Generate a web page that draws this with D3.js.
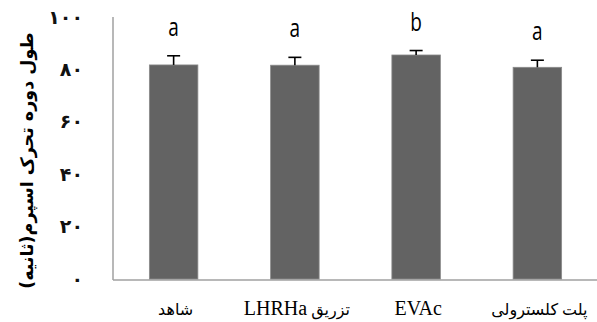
<!DOCTYPE html>
<html>
<head>
<meta charset="utf-8">
<script src="https://cdn.jsdelivr.net/npm/d3@7"></script>
<style>
  html, body { margin: 0; padding: 0; background: #fff; }
  svg { display: block; }
</style>
</head>
<body>
<svg id="chart" width="597" height="322"></svg>
<script>
// Sperm motility duration (seconds) by treatment
const categories = ["شاهد", "تزریق LHRHa", "EVAc", "پلت کلسترولی"];
const means = [81.7, 81.6, 85.5, 80.8];
const errors = [3.5, 3.0, 1.7, 2.7];
const letters = ["a", "a", "b", "a"];
const tickValues = [0, 20, 40, 60, 80, 100];
const tickLabels = ["۰", "۲۰", "۴۰", "۶۰", "۸۰", "۱۰۰"];
const yTitle = "طول دوره تحرک اسپرم(ثانیه)";

const svg = d3.select("#chart");
const plotLeft = 113, plotRight = 598, plotTop = 17, plotBottom = 280;

const x = d3.scaleBand().domain(categories).range([plotLeft, plotRight]).paddingInner(0.6).paddingOuter(0.3);
const y = d3.scaleLinear().domain([0, 100]).range([plotBottom - 1, plotTop]);

// axes lines
svg.append("line").attr("x1", plotLeft).attr("x2", plotLeft).attr("y1", plotTop).attr("y2", plotBottom)
  .attr("stroke", "#a0a0a0").attr("stroke-width", 1.5);
svg.append("line").attr("x1", plotLeft).attr("x2", 597).attr("y1", plotBottom).attr("y2", plotBottom)
  .attr("stroke", "#a0a0a0").attr("stroke-width", 1.5);

// y tick labels
svg.append("g").selectAll("text").data(tickValues).join("text")
  .attr("x", 83).attr("y", d => y(d))
  .attr("dy", "0.35em").attr("text-anchor", "end")
  .attr("font-family", "DejaVu Sans, sans-serif").attr("font-size", 19).attr("font-weight", "bold")
  .attr("fill", "#111")
  .text((d, i) => tickLabels[i]);

// y title
svg.append("text")
  .attr("transform", `translate(27,${(plotTop + plotBottom) / 2 + 12}) rotate(-90)`)
  .attr("text-anchor", "middle").attr("dy", "0.35em")
  .attr("font-family", "DejaVu Sans, sans-serif").attr("font-size", 17.5).attr("font-weight", "bold")
  .attr("fill", "#000")
  .text(yTitle);

// bars
svg.append("g").selectAll("rect").data(categories).join("rect")
  .attr("x", d => x(d)).attr("width", x.bandwidth())
  .attr("y", (d, i) => y(means[i])).attr("height", (d, i) => y(0) - y(means[i]))
  .attr("fill", "#636363").attr("stroke", "#8a8a8a").attr("stroke-width", 0.8);

// error bars (upper only)
const eb = svg.append("g").attr("stroke", "#000").attr("stroke-width", 1.6);
categories.forEach((c, i) => {
  const cx = x(c) + x.bandwidth() / 2;
  eb.append("line").attr("x1", cx).attr("x2", cx).attr("y1", y(means[i])).attr("y2", y(means[i] + errors[i]));
  eb.append("line").attr("x1", cx - 6.5).attr("x2", cx + 6.5).attr("y1", y(means[i] + errors[i])).attr("y2", y(means[i] + errors[i]));
});

// significance letters (slightly tall glyphs)
svg.append("g").selectAll("text").data(categories).join("text")
  .attr("transform", (d, i) => `translate(${x(d) + x.bandwidth() / 2},${y(means[i] + errors[i]) - 20}) scale(1,1.3)`)
  .attr("text-anchor", "middle")
  .attr("font-family", "Open Sans, sans-serif").attr("font-size", 19)
  .attr("fill", "#000")
  .text((d, i) => letters[i]);

// x category labels: right-to-left, Latin runs set larger than Persian runs
const runs = s => s.match(/[A-Za-z]+|[^A-Za-z]+/g);
svg.append("g").selectAll("text").data(categories).join("text")
  .attr("x", d => x(d) + x.bandwidth() / 2 + 2).attr("y", 315)
  .attr("text-anchor", "middle")
  .attr("direction", "rtl")
  .attr("font-family", "Liberation Serif, DejaVu Sans, serif")
  .attr("fill", "#000")
  .each(function (d) {
    const t = d3.select(this);
    runs(d).forEach(r => {
      t.append("tspan")
        .attr("font-size", /[A-Za-z]/.test(r) ? 20 : 16)
        .text(r);
    });
  });
</script>
</body>
</html>
